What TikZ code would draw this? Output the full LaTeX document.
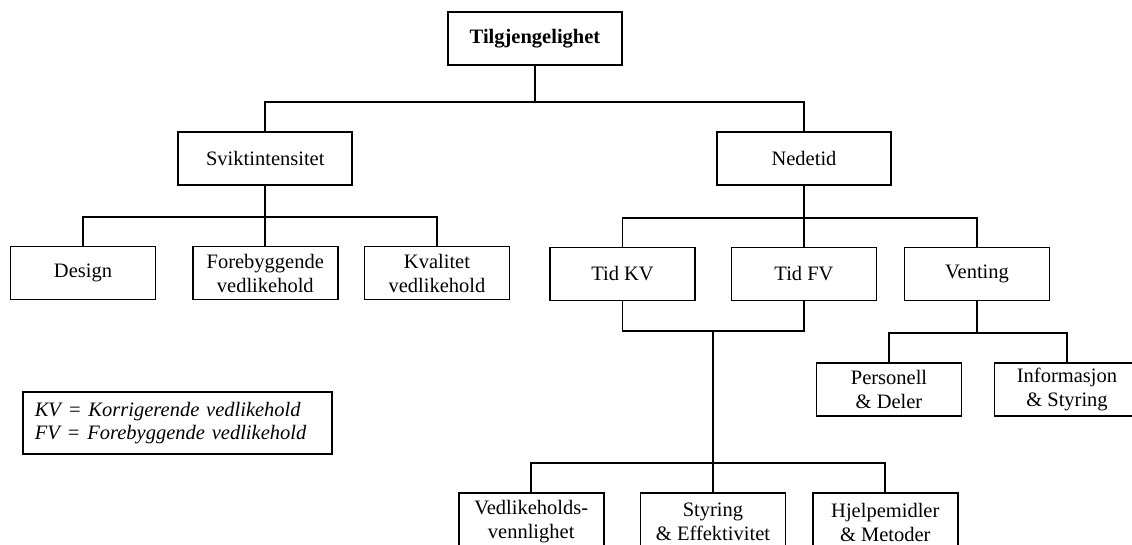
\documentclass[tikz,border=0pt]{standalone}
\usepackage{fontspec}
\setmainfont{Liberation Serif}
\begin{document}
\begin{tikzpicture}[x=1pt,y=-1pt,
  box/.style={draw, line width=1.8pt, minimum width=145pt, minimum height=53pt,
    inner sep=0pt, align=center, font=\fontsize{20.5}{24}\selectfont},
  widebox/.style={box, minimum width=174pt},
  cutbox/.style={box, minimum height=58pt},
  legendbox/.style={draw, line width=1.8pt, minimum height=62pt, inner xsep=12pt,
    inner ysep=0pt, text width=285pt, align=left,
    font=\fontsize{20.5}{22.5}\selectfont\itshape},
  link/.style={line width=1.8pt}]
\fill[white] (0,0) rectangle (1132,544);
\useasboundingbox (0,0) rectangle (1132,544);

% bus levels
\coordinate (busA) at (0,101.7);
\coordinate (busB) at (0,216.7);
\coordinate (busC) at (0,217.7);
\coordinate (busD) at (0,331);
\coordinate (busE) at (0,463.3);
\coordinate (busF) at (0,333.3);

% boxes
\node[widebox, font=\fontsize{20.5}{24}\selectfont\bfseries] (top) at (535,38.7) {Tilgjengelighet};
\node[widebox] (svikt) at (265.3,158.7) {Sviktintensitet};
\node[widebox] (nedetid) at (804,158.5) {Nedetid};

\node[box] (design) at (83,273) {Design};
\node[box] (forebyg) at (265.3,273) {Forebyggende\\vedlikehold};
\node[box] (kvalitet) at (437,273) {Kvalitet\\vedlikehold};

\node[box] (tidkv) at (622.5,274) {Tid KV};
\node[box] (tidfv) at (804,274) {Tid FV};
\node[box] (venting) at (977,274) {Venting};

\node[box] (personell) at (889,389.7) {Personell\\\& Deler};
\node[box] (informasjon) at (1067,389.7) {Informasjon\\\& Styring};

\node[cutbox] (vedl) at (531.2,522) {Vedlikeholds-\\vennlighet};
\node[cutbox] (styring) at (713,522) {Styring\\\& Effektivitet};
\node[cutbox] (hjelp) at (885.3,522) {Hjelpemidler\\\& Metoder};

\node[legendbox] (legend) at (177.3,423.3) {KV = Korrigerende vedlikehold\\FV = Forebyggende vedlikehold};

% connectors
\draw[link] (top.south) -- (top.south |- busA);
\draw[link] (svikt.north) |- (nedetid.north |- busA) -- (nedetid.north);

\draw[link] (svikt.south) -- (forebyg.north);
\draw[link] (design.north) |- (kvalitet.north |- busB) -- (kvalitet.north);

\draw[link] (nedetid.south) -- (tidfv.north);
\draw[link] (tidkv.north) |- (venting.north |- busC) -- (venting.north);

\draw[link] (tidkv.south) |- (tidfv.south |- busD) -- (tidfv.south);
\coordinate (merge) at (styring.north |- busD);
\draw[link] (merge) -- (styring.north);
\draw[link] (vedl.north) |- (hjelp.north |- busE) -- (hjelp.north);

\draw[link] (venting.south) -- (venting.south |- busF);
\draw[link] (personell.north) |- (informasjon.north |- busF) -- (informasjon.north);
\end{tikzpicture}
\end{document}
